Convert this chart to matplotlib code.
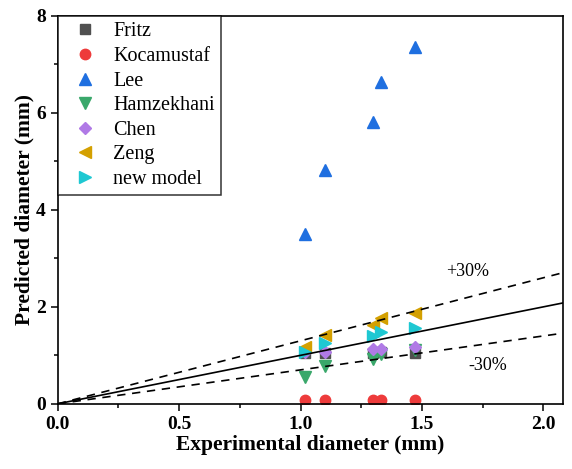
import numpy as np
import matplotlib.pyplot as plt
from matplotlib.ticker import MultipleLocator

plt.rcParams["font.family"] = ["Liberation Serif", "DejaVu Serif"]
plt.rcParams["font.size"] = 13

x_exp = [1.02, 1.10, 1.30, 1.33, 1.47]
fritz = [1.05, 1.05, 1.05, 1.07, 1.05]
kocamustaf = [0.08, 0.08, 0.08, 0.08, 0.08]
lee = [3.50, 4.82, 5.81, 6.64, 7.36]
hamzekhani = [0.56, 0.77, 0.92, 1.02, 1.12]
chen = [1.07, 1.07, 1.13, 1.13, 1.18]
zeng = [1.18, 1.42, 1.63, 1.77, 1.88]
new_model = [1.07, 1.25, 1.39, 1.48, 1.56]

series = [
    ("Fritz", fritz, "s", "#505050", 6.5),
    ("Kocamustaf", kocamustaf, "o", "#ee3b3b", 7.5),
    ("Lee", lee, "^", "#1f6fe0", 8),
    ("Hamzekhani", hamzekhani, "v", "#3aa86b", 8),
    ("Chen", chen, "D", "#b07ae6", 6),
    ("Zeng", zeng, "<", "#d4a000", 8),
    ("new model", new_model, ">", "#1ec8d2", 8),
]

fig = plt.figure(figsize=(5.72, 4.69), dpi=100)
ax = fig.add_axes([0.101, 0.139, 0.883, 0.827])

for name, vals, m, c, ms in series:
    ax.plot(x_exp, vals, ls="none", marker=m, color=c, markersize=ms, label=name)

xl = np.array([0, 2.08])
ax.plot(xl, xl, color="k", lw=1.2)
ax.plot(xl, 1.3 * xl, color="k", lw=1.2, ls=(0, (5, 4)))
ax.plot(xl, 0.7 * xl, color="k", lw=1.2, ls=(0, (5, 4)))
ax.text(1.60, 2.72, "+30%", fontsize=13, va="center")
ax.text(1.69, 0.80, "-30%", fontsize=13, va="center")

ax.set_xlim(0, 2.08)
ax.set_ylim(0, 8)
ax.xaxis.set_major_locator(MultipleLocator(0.5))
ax.xaxis.set_minor_locator(MultipleLocator(0.25))
ax.yaxis.set_major_locator(MultipleLocator(2))
ax.yaxis.set_minor_locator(MultipleLocator(1))
ax.xaxis.set_major_formatter(lambda v, p: f"{v:.1f}")
ax.tick_params(which="major", length=5, width=1.1, labelsize=14)
ax.tick_params(which="minor", length=3, width=1.1)
for lab in ax.get_xticklabels() + ax.get_yticklabels():
    lab.set_fontweight("bold")
for s in ax.spines.values():
    s.set_linewidth(1.2)

ax.set_xlabel("Experimental diameter (mm)", fontweight="bold", fontsize=15.5,
              labelpad=2)
ax.set_ylabel("Predicted diameter (mm)", fontweight="bold", fontsize=15.5,
              labelpad=1)

leg = ax.legend(loc="upper left", bbox_to_anchor=(0.0, 1.0), fancybox=False,
                edgecolor="k", borderaxespad=0.0, handletextpad=0.37,
                handlelength=2.05, labelspacing=0.27, fontsize=14.5,
                borderpad=0.32)
leg.get_frame().set_linewidth(1.1)

fig.savefig("out.png", dpi=100)
